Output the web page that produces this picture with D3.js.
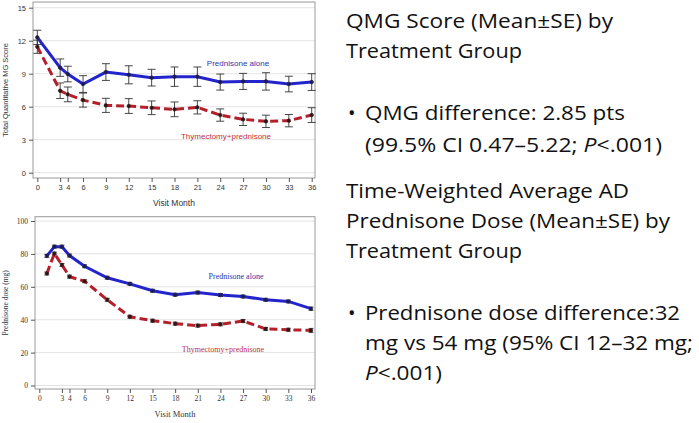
<!DOCTYPE html>
<html><head><meta charset="utf-8">
<script src="https://cdn.jsdelivr.net/npm/d3@7"></script>
<style>body{margin:0;background:#fff}svg{display:block}</style>
</head><body>
<script>
// ---- Data ----
const qmgMonths = [0,3,4,6,9,12,15,18,21,24,27,30,33,36];
const qmgPred   = [12.3,9.55,8.97,8.06,9.15,8.9,8.64,8.73,8.73,8.24,8.3,8.3,8.06,8.24];
const qmgPredSE = [0.65,0.79,0.71,0.76,0.76,0.82,0.76,0.88,0.88,0.73,0.73,0.79,0.71,0.76];
const qmgThym   = [11.45,7.45,7.12,6.6,6.12,6.06,5.9,5.76,5.94,5.24,4.85,4.67,4.73,5.24];
const qmgThymSE = [0.6,0.71,0.67,0.64,0.64,0.67,0.62,0.67,0.6,0.56,0.56,0.56,0.56,0.67];
const qmgYTicks = [0,3,6,9,12,15];

const doseMonths = [1,2,3,4,6,9,12,15,18,21,24,27,30,33,36];
const dosePred   = [78.8,84.4,84.4,79,72.5,65.5,61.8,57.6,55.2,56.5,55,54.1,52.1,51.1,46.7];
const dosePredSE = [0.9,0.9,0.9,0.9,0.9,0.9,0.9,0.9,0.9,0.9,0.9,0.9,0.9,0.9,1.0];
const doseThym   = [68.1,80.2,73.3,66.2,63.4,52.1,41.8,39.4,37.6,36.4,37.2,39.2,34.4,33.9,33.5];
const doseThymSE = [0.9,0.9,0.9,0.9,0.9,0.9,0.9,0.9,0.9,0.9,0.9,0.9,0.9,0.9,1.2];
const doseYTicks = [0,20,40,60,80,100];

const xTicks = [0,3,4,6,9,12,15,18,21,24,27,30,33,36];
const seriesNames = ["Prednisone alone","Thymectomy+prednisone"];

const textLines = [
  {t:"QMG Score (Mean±SE) by", bullet:false, w:267},
  {t:"Treatment Group", bullet:false, w:176},
  {t:"QMG difference: 2.85 pts", bullet:true, w:260},
  {t:"(99.5% CI 0.47–5.22; <i>P</i><.001)", bullet:false, indent:true, w:297},
  {t:"Time-Weighted Average AD", bullet:false, w:283},
  {t:"Prednisone Dose (Mean±SE) by", bullet:false, w:324},
  {t:"Treatment Group", bullet:false, w:176},
  {t:"Prednisone dose difference:32", bullet:true, w:315},
  {t:"mg vs 54 mg (95% CI 12–32 mg;", bullet:false, indent:true, w:328},
  {t:"<i>P</i><.001)", bullet:false, indent:true, w:77}
];
const textBaselines = [28,58,120,152,198,228,258,320,350,380];

// ---- Drawing ----
const W = 699, H = 423;
const svg = d3.select("body").append("svg").attr("width",W).attr("height",H);
const BLUE = "#2424cc", RED = "#b3202c";

function panel(opt){
  const g = svg.append("g");
  const x = d3.scaleLinear().domain([0,36]).range(opt.xr);
  const y = d3.scaleLinear().domain(opt.yd).range(opt.yr);
  g.selectAll("line.grid").data(opt.yTicks).join("line")
    .attr("x1",opt.frame[0]).attr("x2",opt.frame[2])
    .attr("y1",d=>y(d)).attr("y2",d=>y(d))
    .attr("stroke","#e4e4e4").attr("stroke-width",1);
  g.append("rect").attr("x",opt.frame[0]).attr("y",opt.frame[1])
    .attr("width",opt.frame[2]-opt.frame[0]).attr("height",opt.frame[3]-opt.frame[1])
    .attr("fill","none").attr("stroke","#9a9a9a").attr("stroke-width",1);
  const ax = g.append("g").attr("transform",`translate(0,${opt.frame[3]})`)
    .call(d3.axisBottom(x).tickValues(xTicks).tickSize(4).tickPadding(3).tickSizeOuter(0));
  const ay = g.append("g").attr("transform",`translate(${opt.frame[0]},0)`)
    .call(d3.axisLeft(y).tickValues(opt.yTicks).tickSize(4).tickPadding(3).tickSizeOuter(0));
  [ax,ay].forEach(a=>{
    a.select(".domain").remove();
    a.selectAll("line").attr("stroke","#555");
    a.selectAll("text").attr("font-family",opt.font).attr("font-size",opt.fs).attr("fill","#333");
  });
  g.append("text").attr("x",(opt.frame[0]+opt.frame[2])/2).attr("y",opt.xTitleY)
    .attr("text-anchor","middle").attr("font-family",opt.font).attr("font-size",opt.fs+1).attr("fill","#333")
    .text("Visit Month");
  g.append("text").attr("transform",`translate(${opt.yTitleX},${(opt.frame[1]+opt.frame[3])/2}) rotate(-90)`)
    .attr("text-anchor","middle").attr("font-family",opt.font).attr("font-size",opt.fs).attr("fill","#333")
    .text(opt.yTitle);

  const series = [
    {m:opt.months, v:opt.s1, se:opt.se1, color:BLUE, dash:null},
    {m:opt.months, v:opt.s2, se:opt.se2, color:RED, dash:"8,4"}
  ];
  const line = d3.line().x(d=>x(d[0])).y(d=>y(d[1]));
  series.forEach(s=>{
    const pts = s.m.map((m,i)=>[m,s.v[i],s.se[i]]);
    const eb = g.append("g").attr("stroke","#333").attr("stroke-width",0.9);
    pts.forEach(p=>{
      eb.append("line").attr("x1",x(p[0])).attr("x2",x(p[0])).attr("y1",y(p[1]-p[2])).attr("y2",y(p[1]+p[2]));
      [p[1]-p[2],p[1]+p[2]].forEach(v=>eb.append("line").attr("x1",x(p[0])-opt.cap).attr("x2",x(p[0])+opt.cap).attr("y1",y(v)).attr("y2",y(v)));
    });
    g.append("path").datum(pts).attr("d",line).attr("fill","none")
      .attr("stroke",s.color).attr("stroke-width",3).attr("stroke-dasharray",s.dash);
    g.selectAll(null).data(pts).join("circle").attr("cx",d=>x(d[0])).attr("cy",d=>y(d[1]))
      .attr("r",1.8).attr("fill",s.color==BLUE?"#1a1a66":"#3a1010").attr("stroke","#222").attr("stroke-width",0.6);
  });
  g.append("text").attr("x",opt.l1[0]).attr("y",opt.l1[1]).attr("text-anchor","middle")
    .attr("font-family",opt.font).attr("font-size",opt.fs+0.5).attr("fill","#3333a8").text(seriesNames[0]);
  g.append("text").attr("x",opt.l2[0]).attr("y",opt.l2[1]).attr("text-anchor","middle")
    .attr("font-family",opt.font).attr("font-size",opt.fs+0.5).attr("fill","#c0303c").text(seriesNames[1]);
}

panel({
  xr:[37.3,311.7], yd:[0,15], yr:[172.7,7.7], frame:[33,2,315,178],
  yTicks:qmgYTicks, font:"Liberation Sans, Arial, sans-serif", fs:7.5,
  xTitleY:205.5, yTitleX:8, yTitle:"Total Quantitative MG Score",
  months:qmgMonths, s1:qmgPred, se1:qmgPredSE, s2:qmgThym, se2:qmgThymSE, cap:4,
  l1:[238,65.5], l2:[226,139]
});
panel({
  xr:[39.3,311], yd:[0,100], yr:[385.5,221], frame:[35,216.7,315,389],
  yTicks:doseYTicks, font:"Liberation Serif, Times New Roman, serif", fs:7.5,
  xTitleY:416.5, yTitleX:8, yTitle:"Prednisone dose (mg)",
  months:doseMonths, s1:dosePred, se1:dosePredSE, s2:doseThym, se2:doseThymSE, cap:2.5,
  l1:[236,278.5], l2:[223,352]
});

// right text
const tg = svg.append("g").attr("font-family","'Open Sans', sans-serif").attr("font-size",20).attr("fill","#111");
textLines.forEach((l,i)=>{
  const xx = (l.bullet||l.indent)?365:346;
  if(l.bullet) tg.append("text").attr("x",348).attr("y",textBaselines[i]).text("•");
  const t = tg.append("text").attr("x",xx).attr("y",textBaselines[i])
    .attr("textLength",l.w).attr("lengthAdjust","spacingAndGlyphs");
  const parts = l.t.split(/(<i>.*?<\/i>)/);
  parts.forEach(p=>{
    if(!p) return;
    const m = p.match(/^<i>(.*)<\/i>$/);
    const ts = t.append("tspan").text(m?m[1]:p);
    if(m) ts.attr("font-style","italic");
  });
});
</script>
</body></html>
